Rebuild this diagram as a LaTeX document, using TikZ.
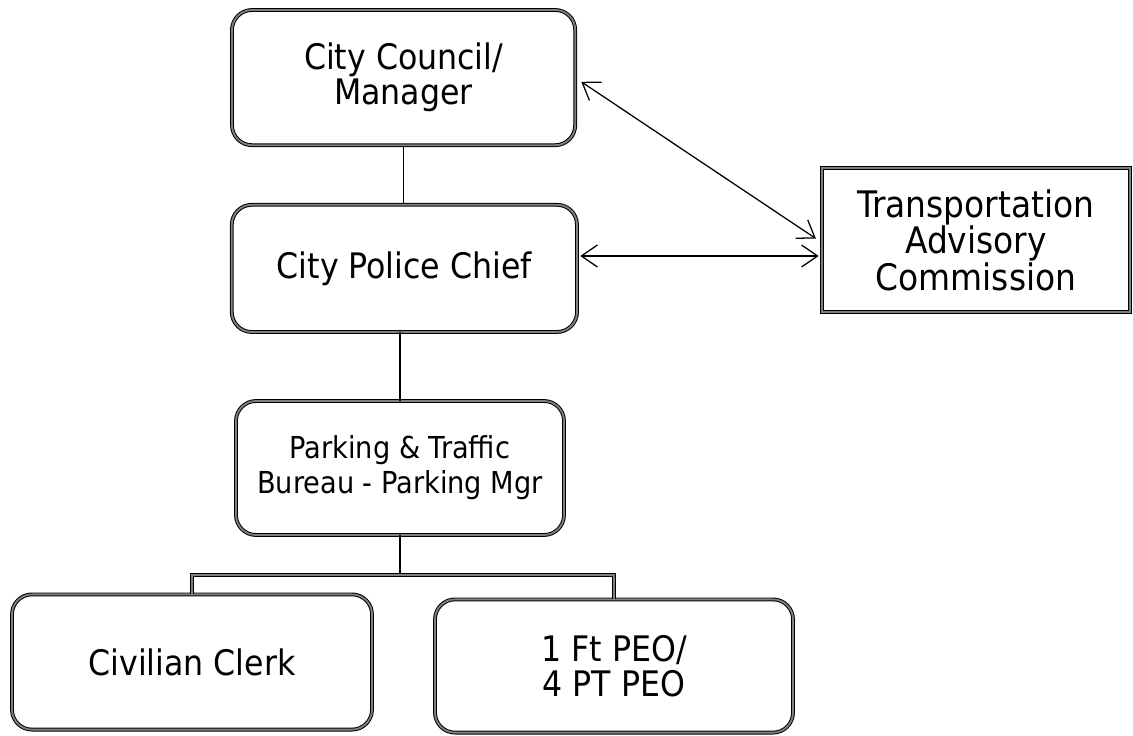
\documentclass[tikz,border=0pt]{standalone}
\usepackage{fontspec}
\setmainfont{DejaVu Sans Condensed}
\usetikzlibrary{arrows.meta}

\begin{document}
\begin{tikzpicture}[
        office/.style = {draw=black, line width=0.7pt, double=black!50, double distance=1.3pt,
                         rounded corners=0.5cm, align=center, inner sep=0pt,
                         font=\fontsize{25}{25}\selectfont},
        board/.style = {draw=black, line width=0.7pt, double=black!50, double distance=1.0pt,
                        align=center, inner sep=0pt, font=\fontsize{26}{26}\selectfont},
        link/.style = {line width=0.9pt, {Straight Barb[length=4mm,width=5.5mm]}-{Straight Barb[length=4mm,width=5.5mm]}},
        tie/.style = {line width=1.1pt}
    ]
        \useasboundingbox (0,0) rectangle (28.325,-18.4);

        \node (council) at (10.09,-1.94) [office, minimum width=8.58cm, minimum height=3.38cm] {City Council/\\Manager};
        \node (chief) at (10.11,-6.71) [office, minimum width=8.63cm, minimum height=3.18cm] {City Police Chief};
        \node (parking) at (10.0,-11.7) [office, minimum width=8.2cm, minimum height=3.35cm,
                font=\fontsize{21.5}{25}\selectfont] {Parking \& Traffic\\Bureau - Parking Mgr};
        \node (clerk) at (4.8,-16.55) [office, minimum width=9.0cm, minimum height=3.38cm] {Civilian Clerk};
        \node (peo) at (15.35,-16.65) [office, minimum width=8.95cm, minimum height=3.33cm] {1 Ft PEO/\\4 PT PEO};
        \node (tac) at (24.4,-6.0) [board, minimum width=7.7cm, minimum height=3.6cm] {Transportation\\Advisory\\Commission};

        % chain of command
        \draw [tie] (council.south) -- (council.south |- chief.north);
        \draw [tie] (chief.south -| parking.north) -- (parking.north);
        \coordinate (bus) at (parking.south |- 0,-14.375);
        \draw [tie] (parking.south) -- (bus);
        \draw [office, rounded corners=0pt] (clerk.north) |- (bus) -| (peo.north);

        % advisory links
        \draw [link] ([xshift=4pt,yshift=-3pt]council.east) -- ([xshift=-4pt,yshift=1pt]tac.west);
        \draw [link] ([xshift=2pt,yshift=0.31cm]chief.east) -- ([xshift=-2pt,yshift=0.31cm]chief.east -| tac.west);

    \end{tikzpicture}
\end{document}
